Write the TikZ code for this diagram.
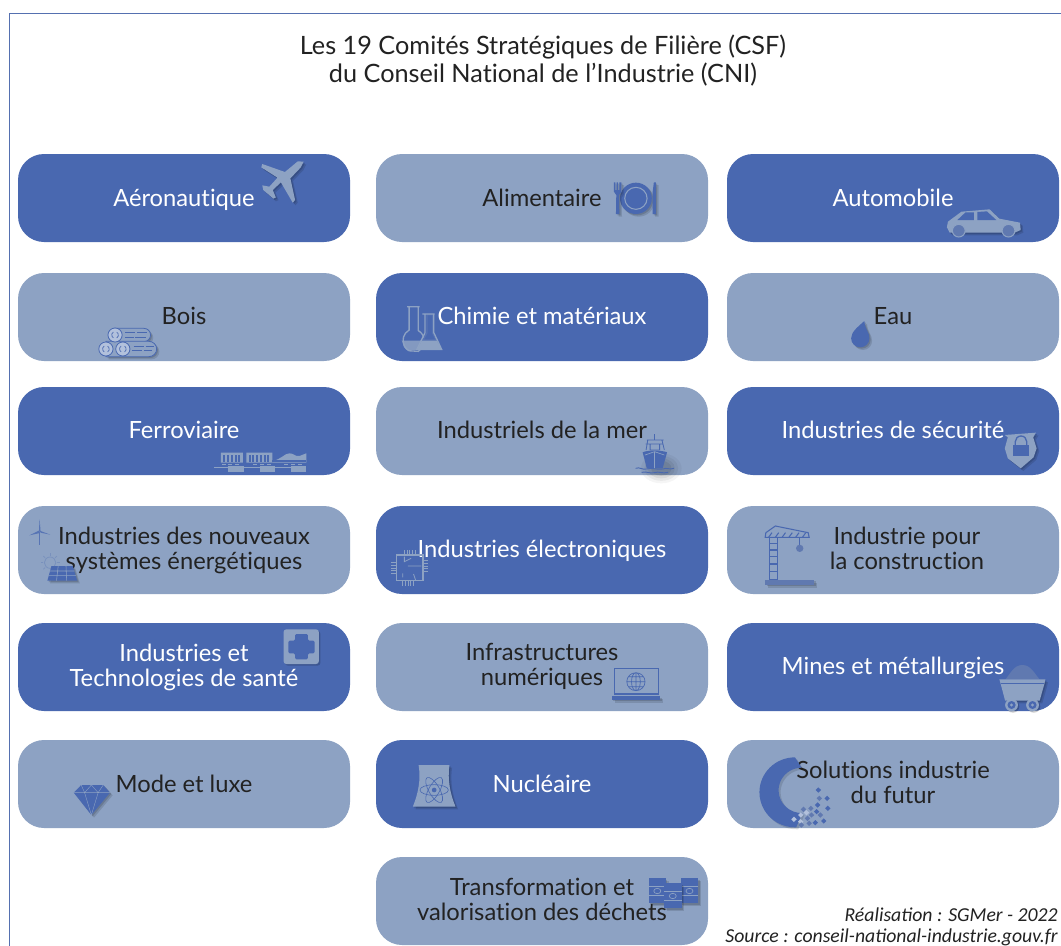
\documentclass[tikz,border=0pt]{standalone}
\usepackage{fontspec}
\setmainfont[Ligatures=NoCommon]{Lato}
\newfontfamily\footf{Carlito}
\definecolor{dk}{HTML}{4968B0}
\definecolor{lt}{HTML}{8DA2C3}
\definecolor{ink}{HTML}{222222}
\definecolor{frm}{HTML}{5570B0}
\definecolor{mid}{HTML}{6079B0}
\definecolor{pale}{HTML}{B2C1DC}
\newcommand\sr{\rule[-4.25pt]{0pt}{19pt}}
\newcommand\srl{\rule[-3.5pt]{0pt}{19pt}}
\newcommand\sfill[2]{\fill[black,opacity=.12,xshift=2pt,yshift=-2pt] #2;\fill[black,opacity=.14,xshift=1pt,yshift=-1pt] #2;\fill[#1] #2;}
\tikzset{
  box/.style={rounded corners=19.5pt,minimum width=249pt,minimum height=66pt,inner sep=0pt,align=center,font=\fontsize{17.8}{19}\selectfont},
  dbox/.style={box,fill=dk,text=white},
  lbox/.style={box,fill=lt,text=ink},
  z1/.style={shift={(0,140)},x=.2538pt,y=-.25pt},
  z2/.style={shift={(530,140)},x=.2538pt,y=-.25pt},
  z3/.style={shift={(0,490)},x=.2538pt,y=-.25pt},
  z4/.style={shift={(530,490)},x=.2538pt,y=-.25pt},
  z5/.style={shift={(370,840)},x=.3305pt,y=-.25pt},
}
\begin{document}
\begin{tikzpicture}[x=.75pt,y=-.75pt]
\useasboundingbox (0,0) rectangle (1061,946);
\fill[white] (0,0) rectangle (1061,946);
\draw[frm,line width=.9pt] (1061,13.5) -- (9.5,13.5) -- (9.5,946);
\node[text=ink,align=center,font=\fontsize{18.95}{21}\selectfont] (title) at (543,61) {Les 19 Comités Stratégiques de Filière (CSF)\\du Conseil National de l’Industrie (CNI)};
% boxes
\node[dbox] (aero) at (184,198) {\srl Aéronautique};
\node[lbox] (alim) at (542,198) {\srl Alimentaire};
\node[dbox] (auto) at (893,198) {\srl Automobile};
\node[lbox] (bois) at (184,317) {\sr Bois};
\node[dbox] (chim) at (542,317) {\sr Chimie et matériaux};
\node[lbox] (eau) at (893,317) {\sr Eau};
\node[dbox] (ferr) at (184,431) {\sr Ferroviaire};
\node[lbox] (mer) at (542,431) {\sr Industriels de la mer};
\node[dbox] (secu) at (893,431) {\sr Industries de sécurité};
\node[lbox] (ener) at (184,550) {\sr Industries des nouveaux\\\sr systèmes énergétiques};
\node[dbox] (elec) at (542,550) {\sr Industries électroniques};
\node[lbox] (cons) at (893,550) {};
\node[text=ink,inner sep=0pt,align=center,font=\fontsize{17.8}{19}\selectfont] (constxt) at (907,550) {\sr Industrie pour\\\sr la construction};
\node[dbox] (sant) at (184,667) {\sr Industries et\\\sr Technologies de santé};
\node[lbox] (infr) at (542,667) {};
\node[text=ink,inner sep=0pt,align=center,font=\fontsize{17.8}{19}\selectfont] (infrtxt) at (542,666) {\sr Infrastructures\\\sr numériques};
\node[dbox] (mine) at (893,667) {\sr Mines et métallurgies};
\node[lbox] (mode) at (184,784) {\srl Mode et luxe};
\node[dbox] (nucl) at (542,784) {\srl Nucléaire};
\node[lbox] (solu) at (893,784) {\sr Solutions industrie\\\sr du futur};
\node[lbox] (dech) at (542,901) {\sr Transformation et\\\sr valorisation des déchets};
\node[anchor=east,inner sep=0pt,align=right,text=ink,font=\footf\itshape\fontsize{14.8}{16}\selectfont] (foot) at (1058,926.5) {Réalisation : SGMer - 2022\\Source : conseil-national-industrie.gouv.fr};
% ---- zoom-1 icons
\begin{scope}[z1]
 % plane
 \sfill{lt}{(897,65) -- (889,82) -- (858,115) -- (872,180) -- (865,188) -- (830,127) -- (806,150) -- (815,172) -- (808,176) -- (778,150) -- (775,136) -- (796,140) -- (820,113) -- (772,82) -- (775,72) -- (842,96) -- (880,64) -- cycle}
 % logs
 \sfill{lt}{(338,565) -- (425,565) arc[start angle=-90,end angle=90,radius=20] -- (338,605) -- cycle}
 \draw[dk,line width=.6pt,fill=lt] (338,565) -- (425,565) arc[start angle=-90,end angle=90,radius=20] -- (338,605) -- cycle;
 \sfill{lt}{(313,604) -- (440,604) arc[start angle=-90,end angle=90,radius=23] -- (313,650) -- cycle}
 \draw[dk,line width=.6pt,fill=lt] (313,604) -- (440,604) arc[start angle=-90,end angle=90,radius=23] -- (313,650) -- cycle;
 \foreach \a/\b/\c in {370/400/578,405/435/578,370/395/592,400/430/592,395/425/618,430/455/618,390/420/632,425/450/632}
   \draw[dk,line width=.5pt] (\a,\c) -- (\b,\c);
 \foreach \cx/\cy in {340/585,313/627,363/627}{
   \draw[dk,line width=.6pt,fill=pale] (\cx,\cy) circle (21);
   \draw[dk,line width=.5pt] (\cx-5,\cy-9) arc[start angle=-120,end angle=-240,radius=10];
   \draw[dk,line width=.5pt] (\cx+5,\cy+9) arc[start angle=60,end angle=-60,radius=10];
 }
 % train
 \fill[lt] (653,938) rectangle (718,968) (728,938) rectangle (805,968);
 \fill[lt] (805,968) -- (805,962) .. controls (830,960) and (840,940) .. (855,940) .. controls (870,940) and (870,950) .. (885,948) -- (905,940) -- (905,968) -- cycle;
 \foreach \i in {660,671,682,693,704,735,746,757,768,779,790}
   \fill[dk] (\i,944) rectangle (\i+6,965);
 \fill[dk] (805,961) rectangle (905,965);
 \draw[lt,line width=.8pt] (632,982) -- (905,982);
 \foreach \i in {675,768,860}{
   \fill[lt] (\i,979) rectangle (\i+45,995);
   \fill[lt] (\i-20,971) rectangle (\i-8,974);
   \fill[lt] (\i,971) rectangle (\i+12,974);
   \fill[lt] (\i+20,971) rectangle (\i+32,974);
 }
 % flasks
 \begin{scope}[lt,line width=1pt]
  \fill[lt!85!dk] (1187,602) -- (1257,602) -- (1245,628) -- (1205,632) arc[start angle=120,end angle=180,radius=30] -- cycle;
  \draw (1203,500) -- (1240,500) (1209,500) -- (1209,570) arc[start angle=-120,end angle=-240,radius=36] -- (1236,634) arc[start angle=60,end angle=-60,radius=36] -- (1236,500);
  \fill[lt] (1262,578) -- (1278,578) -- (1305,628) -- (1232,628) -- cycle;
  \draw[dk!80!lt,fill=dk] (1262,524) -- (1262,578) -- (1250,600) -- (1289,600) -- (1278,578) -- (1278,524) -- cycle;
  \draw (1248,522) -- (1284,522) (1256,522) -- (1256,578) -- (1232,628) -- (1305,628) -- (1282,578) -- (1282,522);
 \end{scope}
\end{scope}
% ---- zoom-2 icons
\begin{scope}[z2]
 % plate
 \sfill{dk}{(313,175) circle (47)}
 \draw[lt,line width=.8pt] (313,175) circle (33);
 \sfill{dk}{(248,127) -- (252,127) -- (252,150) -- (256,150) -- (256,127) -- (260,127) -- (260,150) -- (264,150) -- (264,127) -- (270,127) -- (270,155) -- (263,165) -- (264,222) -- (254,222) -- (255,165) -- (248,155) -- cycle}
 \sfill{dk}{(366,127) -- (372,127) -- (372,222) -- (362,222) -- (362,160) -- cycle}
 % car
 \sfill{lt}{(1232,262) -- (1235,245) -- (1275,215) -- (1358,208) -- (1387,236) -- (1448,248) -- (1450,270) -- (1432,278) -- (1240,278) -- cycle}
 \fill[dk] (1263,240) -- (1287,217) -- (1312,217) -- (1312,240) -- cycle (1322,240) -- (1322,216) -- (1350,214) -- (1378,240) -- cycle;
 \draw[lt,fill=mid,line width=.8pt] (1267,272) circle (19) (1414,272) circle (19);
 % drop
 \sfill{dk}{(988,543) .. controls (990,570) and (1003,575) .. (1003,595) arc[start angle=0,end angle=180,radius=27] .. controls (949,575) and (970,560) .. (988,543) -- cycle}
 % ship
 \foreach \r/\o in {60/.04,50/.05,40/.06,30/.07}
   \fill[black,opacity=\o] (388,985) ellipse ({\r} and {\r*.75});
 \draw[dk,line width=.6pt] (368,882) -- (368,900) (345,900) -- (395,900) (342,912) -- (393,912) (348,900) -- (343,930) (390,900) -- (397,930) (355,912) rectangle (383,930);
 \fill[dk] (333,937) .. controls (345,930) and (390,930) .. (405,937) -- (392,985) -- (345,985) -- cycle;
 \draw[lt,line width=.5pt] (368,935) -- (368,985) (340,945) -- (368,935) -- (397,945);
 \draw[dk,line width=.7pt] (312,985) .. controls (325,980) and (330,990) .. (345,987) .. controls (360,982) and (375,990) .. (392,987) .. controls (405,982) and (412,990) .. (425,985);
 \draw[dk,line width=.7pt] (330,997) .. controls (345,993) and (355,1002) .. (368,998) .. controls (380,993) and (392,1002) .. (408,997);
 % shield
 \sfill{lt}{(1403,885) -- (1495,878) -- (1487,892) -- (1497,925) -- (1488,952) -- (1450,985) -- (1412,955) -- (1403,925) -- (1412,892) -- cycle}
 \fill[dk] (1426,915) rectangle (1475,947);
 \draw[dk,line width=1pt] (1434,915) -- (1434,905) arc[start angle=180,end angle=360,radius=17] -- (1468,915);
\end{scope}
% ---- zoom-3 icons
\begin{scope}[z3]
 % turbine
 \draw[dk!80!lt,line width=.8pt] (117,125) -- (117,165);
 \fill[dk!80!lt] (115,125) -- (117,87) -- (120,125) -- cycle (115,122) -- (87,136) -- (118,129) -- cycle (117,122) -- (149,134) -- (120,128) -- cycle;
 % sun
 \draw[lt!70!dk,line width=.6pt] (148,218) circle (17);
 \foreach \a in {0,45,...,315}
   \draw[lt!70!dk,line width=.6pt] (148,218) ++(\a:21) -- ++(\a:7);
 % solar panel
 \sfill{dk}{(152,228) -- (215,228) -- (228,272) -- (140,272) -- cycle}
 \draw[lt,line width=.4pt] (147,243) -- (220,243) (144,257) -- (224,257) (172,228) -- (167,272) (195,228) -- (197,272);
 % chip
 \draw[lt,line width=.8pt] (1172,195) rectangle (1250,272);
 \foreach \i in {0,1,2,3,4}{
   \draw[lt,line width=.7pt] (1195+\i*8,195) -- (1195+\i*8,180);
   \draw[lt,line width=.7pt] (1190+\i*8,272) -- (1190+\i*8,288);
   \draw[lt,line width=.7pt] (1155,218+\i*8) -- (1172,218+\i*8);
   \draw[lt,line width=.7pt] (1250,212+\i*8) -- (1265,212+\i*8);
 }
 \draw[lt,line width=.6pt] (1195,200) -- (1195,215) -- (1215,205) (1190,262) -- (1190,250) (1228,270) -- (1222,252) (1205,228) -- (1245,228);
 % cross
 \fill[black,opacity=.18,xshift=1.2pt,yshift=-1.2pt,rounded corners=2pt] (838,418) rectangle (942,522);
 \fill[lt,rounded corners=2pt] (838,418) rectangle (942,522);
 \fill[dk,rounded corners=1pt] (872,432) -- (910,432) -- (910,452) -- (930,452) -- (930,490) -- (910,490) -- (910,508) -- (872,508) -- (872,490) -- (852,490) -- (852,452) -- (872,452) -- cycle;
 % diamond
 \sfill{dk}{(218,908) -- (240,885) -- (305,885) -- (325,908) -- (270,975) -- cycle}
 \draw[lt,line width=.3pt] (218,908) -- (325,908) (240,885) -- (250,908) -- (270,885) -- (290,908) -- (305,885) (250,908) -- (270,975) -- (290,908);
 % cooling tower
 \sfill{lt}{(1237,825) -- (1328,825) .. controls (1322,870) and (1330,910) .. (1346,950) -- (1220,950) .. controls (1236,910) and (1244,870) .. (1237,825) -- cycle}
 \foreach \r in {0,60,120}
   \draw[dk,line width=.45pt,rotate around={\r:(1283,900)}] (1283,900) ellipse (42 and 16);
 \fill[dk] (1283,900) circle (7);
\end{scope}
% ---- zoom-4 icons
\begin{scope}[z4]
 % crane
 \sfill{mid}{(695,270) rectangle (840,285)}
 \draw[dk,line width=1pt] (707,143) rectangle (732,268);
 \foreach \yy in {160,180,200,222,245} \draw[dk,line width=1pt] (707,\yy) -- (732,\yy);
 \draw[dk,line width=.8pt] (695,142) -- (825,142) -- (822,128) -- (725,108) -- (697,128) -- cycle;
 \foreach \xx in {705,725,745,765,785,805} \draw[dk,line width=.8pt] (\xx,142) -- (\xx+10,128);
 \draw[dk,line width=.6pt] (797,142) -- (797,165);
 \fill[mid] (797,175) circle (11);
 % laptop
 \draw[dk,line width=.9pt] (250,535) rectangle (380,612);
 \sfill{dk}{(242,619) rectangle (385,630)}
 \draw[dk,line width=.5pt] (313,575) circle (27) (313,575) ellipse (13 and 27) (286,575) -- (340,575) (290,560) -- (336,560) (290,590) -- (336,590) (313,548) -- (313,602);
 % mine cart
 \fill[mid] (1405,568) .. controls (1420,550) and (1430,525) .. (1455,525) .. controls (1480,525) and (1490,550) .. (1506,568) -- cycle;
 \sfill{lt}{(1387,568) -- (1523,568) -- (1520,582) -- (1506,632) -- (1404,632) -- (1391,582) -- cycle}
 \fill[dk] (1391,578) rectangle (1520,582);
 \foreach \xx in {1423,1485}{
   \fill[black,opacity=.2,xshift=1pt,yshift=-1pt] (\xx,645) circle (19);
   \fill[lt] (\xx,645) circle (19);
   \fill[dk] (\xx,645) circle (12);
   \fill[lt] (\xx,645) circle (5);
 }
 % C ring
 \fill[black,opacity=.12,xshift=1.5pt,yshift=-1.5pt] (783,802) arc[start angle=-90,end angle=-180,radius=105] arc[start angle=-180,end angle=-272,radius=105] -- (805,969) arc[start angle=-272,end angle=-90,radius=68] -- cycle;
 \fill[dk] (783,802) arc[start angle=-90,end angle=-180,radius=105] arc[start angle=-180,end angle=-272,radius=105] -- (805,969) arc[start angle=-272,end angle=-90,radius=68] -- cycle;
 \foreach \xx/\yy/\cc in {852/900/dk,855/925/mid,878/925/dk,880/955/dk,850/945/dk,830/955/mid,808/958/mid,817/968/pale,832/975/mid,847/965/dk,800/975/pale,780/988/pale,800/995/pale,820/985/mid,843/998/dk,868/993/dk,802/1005/mid,825/1000/mid,858/975/mid}
   \fill[\cc] (\xx,\yy-8) -- (\xx+8,\yy) -- (\xx,\yy+8) -- (\xx-8,\yy) -- cycle;
\end{scope}
% ---- zoom-5 icons
\begin{scope}[z5]
 \foreach \xa/\ya in {632/115,705/115,667/130}{
   \sfill{dk}{(\xa,\ya) rectangle (\xa+40,\ya+75)}
   \draw[lt,line width=.3pt] (\xa,\ya+25) -- (\xa+40,\ya+25) (\xa,\ya+52) -- (\xa+40,\ya+52);
   \draw[lt,line width=.5pt] (\xa+20,\ya+38) circle (8);
 }
\end{scope}
\end{tikzpicture}
\end{document}
